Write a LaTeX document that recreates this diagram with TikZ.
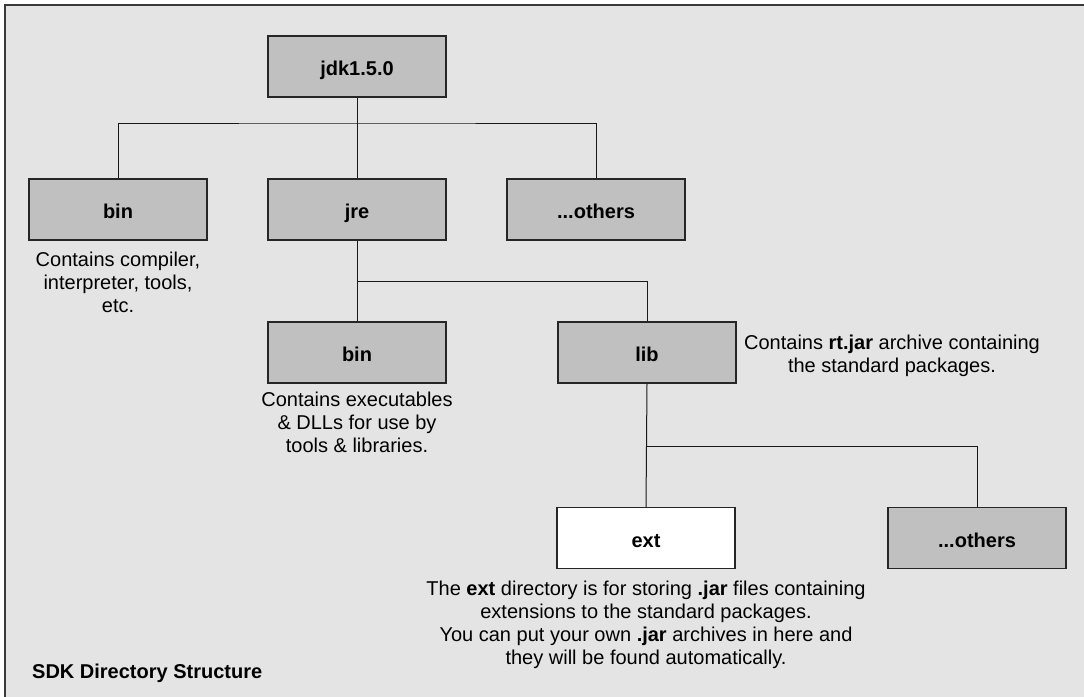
\documentclass[tikz,border=0pt]{standalone}
\usepackage{fontspec}
\setmainfont{Liberation Sans}
\definecolor{bg}{HTML}{E4E4E4}
\definecolor{boxgray}{HTML}{C0C0C0}
\definecolor{frame}{HTML}{3A3A3A}
\tikzset{
  dirbox/.style={draw=black!85, line width=1.1pt, fill=boxgray, minimum width=178pt, minimum height=61pt, inner sep=0pt, text height=18pt, text depth=0pt, font=\fontsize{20}{23}\selectfont\bfseries},
  whitebox/.style={dirbox, fill=white},
  desc/.style={align=center, font=\fontsize{20}{23}\selectfont, inner sep=0pt},
  link/.style={draw=black!90, line width=1pt}
}
\begin{document}
\begin{tikzpicture}[x=1pt,y=-1pt]
\useasboundingbox (0,0) rectangle (1084,696);
\fill[white] (0,0) rectangle (1084,696);
\fill[bg] (5,5) rectangle (1090,702);
\draw[frame, line width=1.2pt] (5,702) -- (5,5) -- (1090,5);

\node[dirbox] (jdk) at (357,66.5) {jdk1.5.0};
\node[dirbox] (bin) at (118,209.5) {bin};
\node[dirbox] (jre) at (357,209.5) {jre};
\node[dirbox] (oth1) at (596,209.5) {...others};
\node[dirbox] (jbin) at (357,352.5) {bin};
\node[dirbox] (lib) at (647,352.5) {lib};
\node[whitebox] (ext) at (646,538) {ext};
\node[dirbox] (oth2) at (977,538) {...others};

\coordinate (j1) at (357,123);
\coordinate (j2) at (357,281);
\coordinate (j3) at (647,446);

\draw[link] (jdk.south) -- (jre.north);
\draw[link] (bin.north) |- (j1) -| (oth1.north);
\draw[link] (jre.south) -- (jbin.north);
\draw[link] (j2) -| (lib.north);
\draw[link] (lib.south) -- (ext.north);
\draw[link] (j3) -| (oth2.north);

\node[desc, anchor=north] (dbin) at (118,252) {Contains compiler,\\interpreter, tools,\\etc.};
\node[desc, anchor=north] (djbin) at (357,392) {Contains executables\\\& DLLs for use by\\tools \& libraries.};
\node[desc, anchor=north] (dlib) at (892,335) {Contains \textbf{rt.jar} archive containing\\the standard packages.};
\node[desc, anchor=north] (dext) at (646,581) {The \textbf{ext} directory is for storing \textbf{.jar} files containing\\extensions to the standard packages.\\You can put your own \textbf{.jar} archives in here and\\they will be found automatically.};
\node[anchor=base west, font=\fontsize{20}{23}\selectfont\bfseries, inner sep=0pt] (title) at (32,678) {SDK Directory Structure};
\end{tikzpicture}
\end{document}
